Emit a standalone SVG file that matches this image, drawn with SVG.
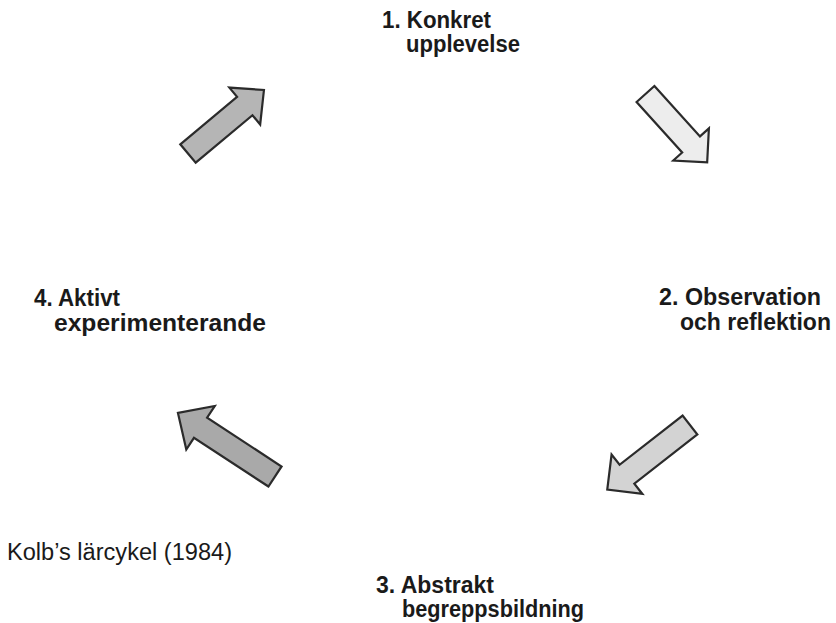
<svg xmlns="http://www.w3.org/2000/svg" width="836" height="623" viewBox="0 0 836 623">
  <defs>
    <style>
      /* block arrows: tail centred at the origin, pointing along +x */
      .arrow { stroke: #2b2b2b; stroke-width: 2.2; stroke-linejoin: miter; }
      .lbl { font-family: "Liberation Sans", Arial, sans-serif; font-weight: bold; font-size: 23px; fill: #1a1a1a; }
      .cap { font-family: "Liberation Sans", Arial, sans-serif; font-size: 23px; fill: #1a1a1a; }
    </style>
  </defs>
  <rect width="836" height="623" fill="#ffffff"/>

  <g id="connectors">
    <!-- 4 -> 1 -->
    <polygon class="arrow" fill="#b5b5b5" transform="translate(188,153.5) rotate(-39.9)"
      points="0,-12 74,-12 74,-24 99,0 74,24 74,12 0,12"/>
    <!-- 1 -> 2 -->
    <polygon class="arrow" fill="#ededed" transform="translate(645.5,94) rotate(47.9)"
      points="0,-12 68,-12 68,-24 92,0 68,24 68,12 0,12"/>
    <!-- 2 -> 3 -->
    <polygon class="arrow" fill="#d3d3d3" transform="translate(690,425) rotate(142)"
      points="0,-12 80,-12 80,-25 105,0 80,25 80,12 0,12"/>
    <!-- 3 -> 4 -->
    <polygon class="arrow" fill="#a9a9a9" transform="translate(275,476.5) rotate(213.2)"
      points="0,-12 89,-12 89,-26 116,0 89,26 89,12 0,12"/>
  </g>

  <g id="node1">
    <text class="lbl" x="382" y="28" textLength="109" lengthAdjust="spacingAndGlyphs">1. Konkret</text>
    <text class="lbl" x="406" y="52" textLength="114" lengthAdjust="spacingAndGlyphs">upplevelse</text>
  </g>
  <g id="node2">
    <text class="lbl" x="659" y="305" textLength="162" lengthAdjust="spacingAndGlyphs">2. Observation</text>
    <text class="lbl" x="680" y="330" textLength="151" lengthAdjust="spacingAndGlyphs">och reflektion</text>
  </g>
  <g id="node3">
    <text class="lbl" x="376" y="593" textLength="118" lengthAdjust="spacingAndGlyphs">3. Abstrakt</text>
    <text class="lbl" x="402" y="617" textLength="182" lengthAdjust="spacingAndGlyphs">begreppsbildning</text>
  </g>
  <g id="node4">
    <text class="lbl" x="34" y="306" textLength="86" lengthAdjust="spacingAndGlyphs">4. Aktivt</text>
    <text class="lbl" x="54" y="331" textLength="212" lengthAdjust="spacingAndGlyphs">experimenterande</text>
  </g>

  <g id="caption">
    <text class="cap" x="7" y="560" textLength="225" lengthAdjust="spacingAndGlyphs">Kolb’s lärcykel (1984)</text>
  </g>
</svg>
